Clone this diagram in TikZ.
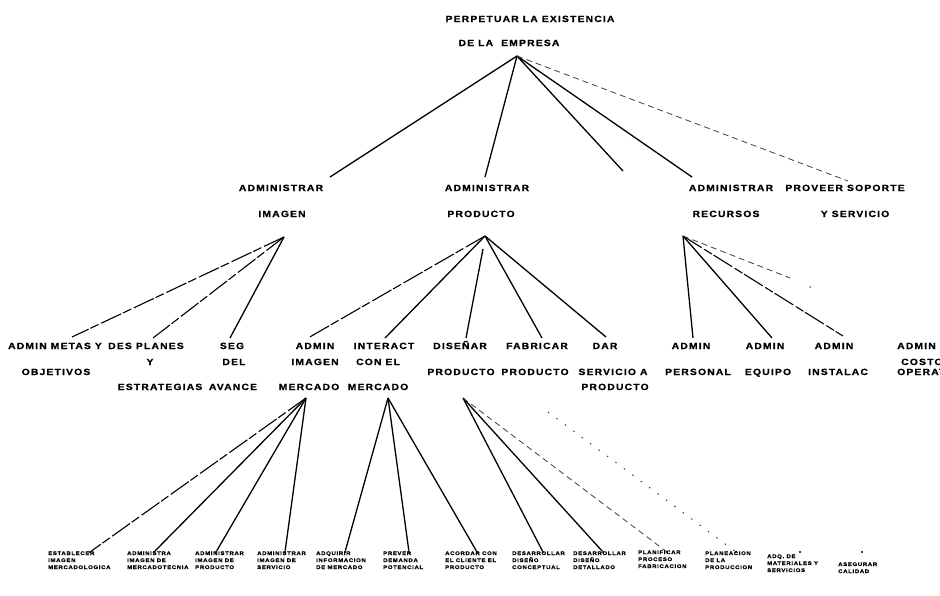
\documentclass[tikz,border=0pt]{standalone}
\usepackage{fontspec}
\setmainfont{Liberation Sans}[FakeStretch=1.15,LetterSpace=13,BoldFeatures={FakeBold=0.8}]
\begin{document}
\begin{tikzpicture}[x=1pt,y=-1pt,
  lbl/.style={font=\bfseries\fontsize{9}{9}\selectfont, inner sep=0pt, anchor=base},
  tiny/.style={font=\bfseries\fontsize{5.2}{7}\selectfont, inner sep=0pt, anchor=base west},
  link/.style={line width=1.3pt},
  broken/.style={line width=1.1pt, dash pattern=on 22pt off 3pt on 9pt off 2pt},
  faint/.style={line width=0.8pt, black!75, dash pattern=on 6pt off 4pt},
  speck/.style={line width=0.9pt, black!80, dash pattern=on 1.5pt off 9pt},
  tip/.style={circle, fill, inner sep=0pt, minimum size=2.4pt}]
\useasboundingbox (0,0) rectangle (940,595);

% ---------- root ----------
\node[lbl] (rootA) at (530,22) {PERPETUAR LA EXISTENCIA};
\node[lbl] (rootB) at (509,46) {DE LA \ EMPRESA};
\coordinate (hubR) at (517,56);

% ---------- second level ----------
\node[lbl] (imgA) at (281,191) {ADMINISTRAR};
\node[lbl] (imgB) at (282,217) {IMAGEN};
\node[lbl] (proA) at (487,191) {ADMINISTRAR};
\node[lbl] (proB) at (481,217) {PRODUCTO};
\node[lbl] (recA) at (731,191) {ADMINISTRAR};
\node[lbl] (recB) at (726,217) {RECURSOS};
\node[lbl] (provA) at (845,191) {PROVEER SOPORTE};
\node[lbl] (provB) at (855,217) {Y SERVICIO};

\coordinate (eImg) at (330,177);
\coordinate (ePro) at (485,177);
\coordinate (eMid) at (623,171);
\coordinate (eRec) at (692,177);
\coordinate (eProv) at (848,181);
\draw[link] (hubR) -- (eImg);
\draw[link] (hubR) -- (ePro);
\draw[link] (hubR) -- (eMid);
\draw[link] (hubR) -- (eRec);
\draw[faint] (hubR) -- (eProv);

\coordinate (hubI) at (284,237);
\coordinate (hubP) at (485,236);
\coordinate (hubQ) at (683,236);

% ---------- third level ----------
\node[lbl] (metA) at (55,349) {ADMIN METAS Y};
\node[lbl] (metB) at (56,375) {OBJETIVOS};
\node[lbl] (desA) at (146,349) {DES PLANES};
\node[lbl] (desB) at (150,365) {Y};
\node[lbl] (desC) at (160,390) {ESTRATEGIAS};
\node[lbl] (segA) at (232,349) {SEG};
\node[lbl] (segB) at (234,365) {DEL};
\node[lbl] (segC) at (233,390) {AVANCE};
\node[lbl] (merA) at (315,349) {ADMIN};
\node[lbl] (merB) at (315,365) {IMAGEN};
\node[lbl] (merC) at (309,390) {MERCADO};
\node[lbl] (intA) at (384,349) {INTERACT};
\node[lbl] (intB) at (378,365) {CON EL};
\node[lbl] (intC) at (378,390) {MERCADO};
\node[lbl] (disA) at (460,349) {DISEÑAR};
\node[lbl] (disB) at (461,375) {PRODUCTO};
\node[lbl] (fabA) at (537,349) {FABRICAR};
\node[lbl] (fabB) at (535,375) {PRODUCTO};
\node[lbl] (darA) at (605,349) {DAR};
\node[lbl] (darB) at (613,375) {SERVICIO A};
\node[lbl] (darC) at (615,390) {PRODUCTO};
\node[lbl] (perA) at (691,349) {ADMIN};
\node[lbl] (perB) at (698,375) {PERSONAL};
\node[lbl] (equA) at (765,349) {ADMIN};
\node[lbl] (equB) at (768,375) {EQUIPO};
\node[lbl] (insA) at (834,349) {ADMIN};
\node[lbl] (insB) at (838,375) {INSTALAC};
\node[lbl, anchor=base west] (cosA) at (897,349) {ADMIN};
\node[lbl, anchor=base west] (cosB) at (901,365) {COSTO};
\node[lbl, anchor=base west] (cosC) at (897,375) {OPERATIVO};

\coordinate (tMet) at (72,337);
\coordinate (tDes) at (153,338);
\coordinate (tSeg) at (230,338);
\draw[broken] (hubI) -- (tMet);
\draw[broken] (hubI) -- (tDes);
\draw[link] (hubI) -- (tSeg);

\coordinate (tMer) at (308,338);
\coordinate (tInt) at (385,338);
\coordinate (sDis) at (483,249);
\coordinate (tDis) at (466,338);
\coordinate (tFab) at (542,338);
\coordinate (tDar) at (606,337);
\draw[broken] (hubP) -- (tMer);
\draw[link] (hubP) -- (tInt);
\draw[link] (sDis) -- (tDis);
\draw[link] (hubP) -- (tFab);
\draw[link] (hubP) -- (tDar);

\coordinate (tPer) at (693,338);
\coordinate (tEqu) at (772,338);
\coordinate (tIns) at (843,336);
\coordinate (tCos) at (790,278);
\draw[link] (hubQ) -- (tPer);
\draw[link] (hubQ) -- (tEqu);
\draw[broken] (hubQ) -- (tIns);
\draw[faint] (hubQ) -- (tCos);
\node[tip, minimum size=1.5pt] (spot) at (810,287) {};

% ---------- fourth level ----------
\coordinate (hubM) at (306,398);
\coordinate (hubN) at (388,398);
\coordinate (hubD) at (463,398);
\coordinate (hubF) at (548,412);

\foreach \n/\x in {b1/90,b2/154,b3/216,b4/285,b5/345,b6/409,b7/477,b8/543,b9/603,b10/667,b11/736,b12/800,b13/862}
  \node[tip] (\n) at (\x,552) {};

\draw[broken] (hubM) -- (b1);
\draw[link] (hubM) -- (b2);
\draw[link] (hubM) -- (b3);
\draw[link] (hubM) -- (b4);
\draw[link] (hubN) -- (b5);
\draw[link] (hubN) -- (b6);
\draw[link] (hubN) -- (b7);
\draw[link] (hubD) -- (b8);
\draw[link] (hubD) -- (b9);
\draw[faint] (hubD) -- (b10);
\draw[speck] (hubF) -- (b11);

\node[tiny, align=left] (l1) at (48,569) {ESTABLECER\\IMAGEN\\MERCADOLOGICA};
\node[tiny, align=left] (l2) at (127,569) {ADMINISTRA\\IMAGEN DE\\MERCADOTECNIA};
\node[tiny, align=left] (l3) at (195,569) {ADMINISTRAR\\IMAGEN DE\\PRODUCTO};
\node[tiny, align=left] (l4) at (257,569) {ADMINISTRAR\\IMAGEN DE\\SERVICIO};
\node[tiny, align=left] (l5) at (316,569) {ADQUIRIR\\INFORMACION\\DE MERCADO};
\node[tiny, align=left] (l6) at (383,569) {PREVER\\DEMANDA\\POTENCIAL};
\node[tiny, align=left] (l7) at (445,569) {ACORDAR CON\\EL CLIENTE EL\\PRODUCTO};
\node[tiny, align=left] (l8) at (512,569) {DESARROLLAR\\DISEÑO\\CONCEPTUAL};
\node[tiny, align=left] (l9) at (573,569) {DESARROLLAR\\DISEÑO\\DETALLADO};
\node[tiny, align=left] (l10) at (638,568) {PLANIFICAR\\PROCESO\\FABRICACION};
\node[tiny, align=left] (l11) at (705,569) {PLANEACION\\DE LA\\PRODUCCION};
\node[tiny, align=left] (l12) at (767,572) {ADQ. DE\\MATERIALES Y\\SERVICIOS};
\node[tiny, align=left] (l13) at (838,573) {ASEGURAR\\CALIDAD};
\end{tikzpicture}
\end{document}
